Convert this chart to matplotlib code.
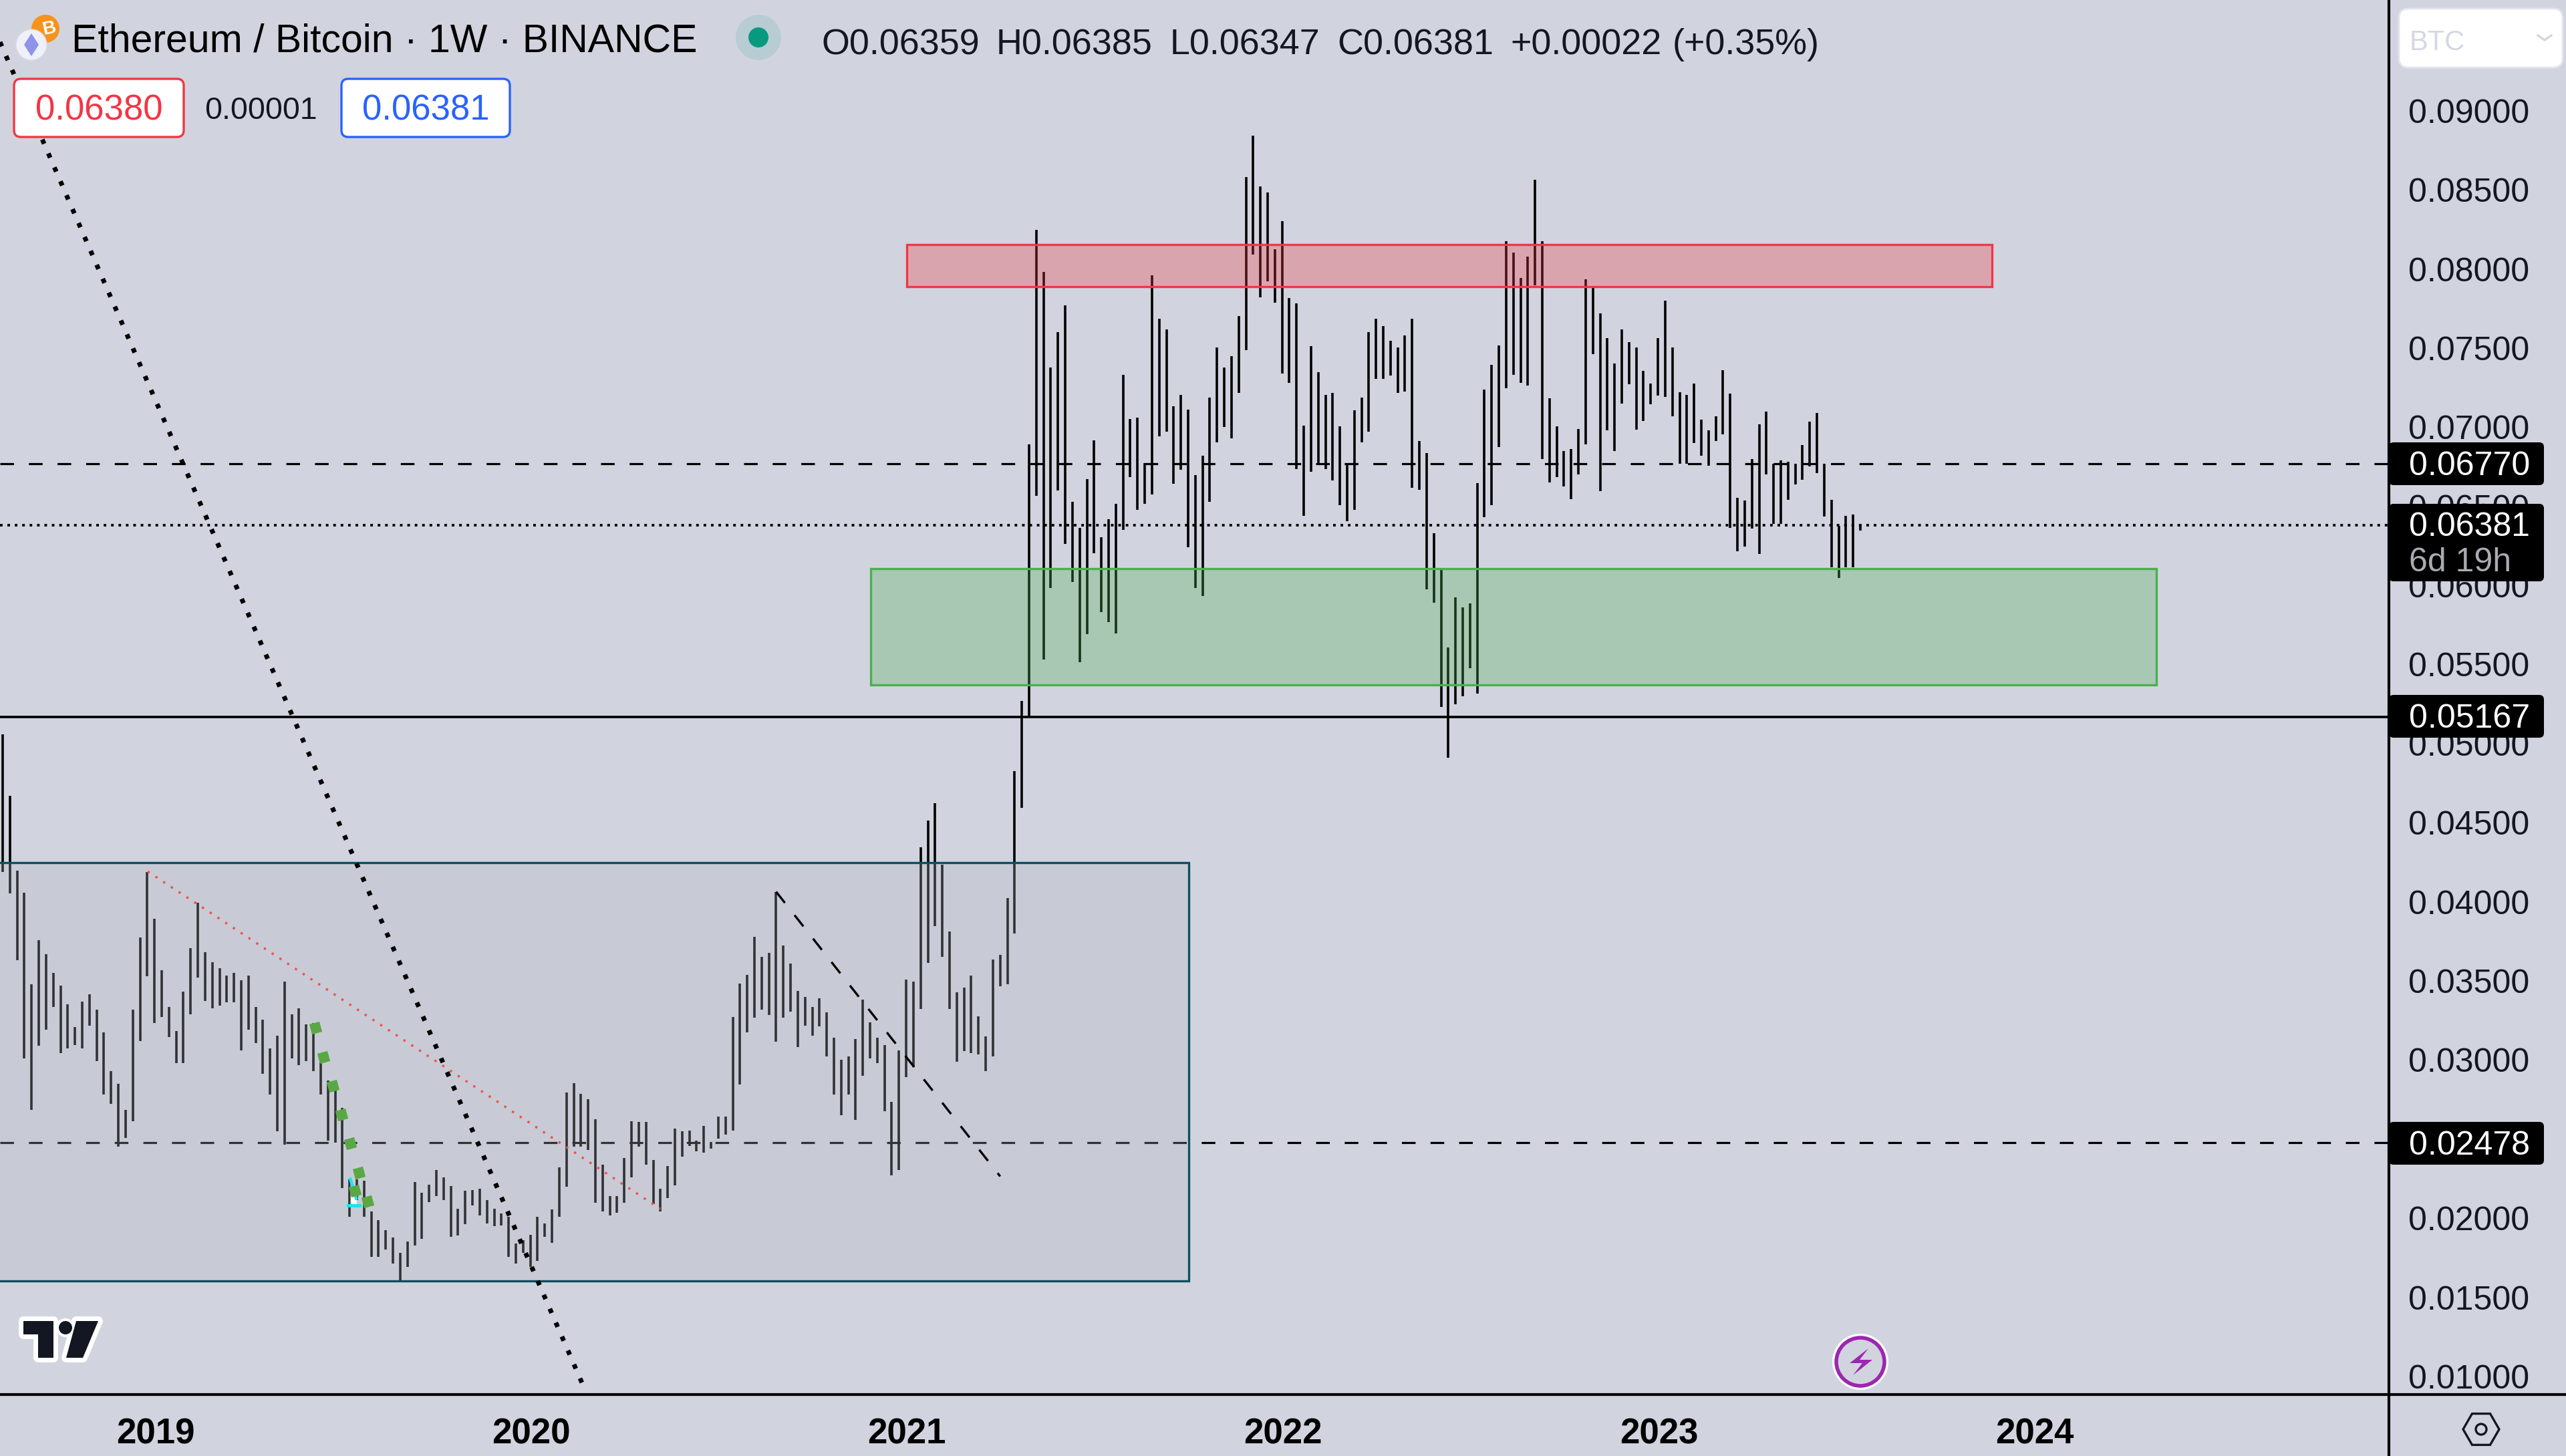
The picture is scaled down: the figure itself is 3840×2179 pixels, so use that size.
import numpy as np
import matplotlib
matplotlib.use("Agg")
import matplotlib.pyplot as plt
from matplotlib.patches import Rectangle, FancyBboxPatch, Circle, Polygon, RegularPolygon

plt.rcParams['font.family'] = ['Liberation Sans', 'DejaVu Sans']

# ---------------- DATA ---------------- #

# weekly bars, prices in 1e-5 BTC
highs = [5060,4672,4199,4059,3477,3756,3669,3550,3470,3351,
         3208,3368,3414,3319,3176,2929,2849,2684,3319,3773,
         4187,3892,3567,3334,3184,3431,3707,3993,3683,3620,
         3581,3535,3550,3504,3533,3334,3256,3072,3152,3494,
         3288,3327,3225,3235,3012,2871,2818,2697,2248,2248,
         2236,2042,1989,1926,1877,1783,1855,2229,2163,2212,
         2306,2258,2204,2061,2175,2180,2188,2115,2061,2030,
         2011,1841,1860,1897,2011,1969,2054,2321,2794,2854,
         2786,2752,2624,2340,2139,2139,2381,2612,
         2609,2609,2369,2188,2331,2568,2551,2554,2491,2585,
         2483,2641,2641,3271,3484,3538,3780,3652,3676,4064,
         3724,3610,3438,3400,3337,3392,3303,3143,3000,3024,
         3131,3380,3237,3143,3094,2735,3060,3509,3494,4345,
         4512,4624,4233,3812,3429,3460,3533,3276,3150,3635,
         3666,4023,4827,5271,
         6893,8246,7983,7379,7601,7768,6529,6363,6673,6918,
         6304,6419,6514,7330,7051,7062,6775,7960,7686,7617,
         7133,7205,7110,6696,6821,7187,7504,7379,7451,7704,
         8579,8842,8523,8484,8126,8300,7816,7783,7010,7512,
         7348,7205,7218,7005,6760,7108,7187,7602,7686,7640,
         7545,7504,7578,7686,6911,6836,6330,6100,5606,5926,
         5859,5887,6647,7236,7394,7515,
         8174,8103,7944,8080,8566,8174,7182,7005,6849,6864,
         6990,7936,7885,7721,7563,7402,7617,7537,7506,7356,
         7276,7563,7798,7506,7220,7205,7276,7046,6982,7069,
         7361,7212,6552,6537,6798,7020,7100,6767,6790,6782,
         6767,6887,7036,7092,6767,6542,6376,6440,6447,6385]
lows = [4187,4054,3630,3012,2684,3092,3193,3334,3043,3072,
        3096,3072,3218,2995,2781,2723,2454,2507,2612,3121,
        3528,3235,3271,3145,2980,2980,3290,3521,3375,3327,
        3344,3363,3363,3060,3193,3109,2915,2781,2551,2466,
        3012,2970,2995,2932,2781,2490,2478,2192,2011,2115,
        2011,1756,1756,1804,1715,1606,1691,1829,1872,2103,
        2139,2115,1884,1892,1964,2083,2018,1969,1950,1955,
        1756,1715,1780,1691,1732,1884,1843,2011,2200,2454,
        2454,2430,2098,2042,2018,2035,2098,2260,
        2454,2338,2088,2042,2127,2209,2391,2459,2423,2415,
        2440,2503,2527,2556,2847,3174,3266,3320,3283,3114,
        3266,3308,3082,3218,3155,3215,3021,2781,2653,2781,
        2621,2900,3012,2980,2677,2272,2306,2891,2956,3324,
        3615,3848,3654,3324,2988,3058,3046,3036,2932,3021,
        3465,3477,3800,4592,
        5171,6565,5532,5984,6599,6263,6023,5516,5690,6202,
        5831,5767,5698,6350,6683,6476,6517,6573,6944,6970,
        6642,6732,6240,5984,5931,6527,6906,7003,6931,7218,
        7489,8093,7821,7924,7788,7341,7282,6734,6440,6719,
        6775,6734,6662,6509,6407,6476,6906,6970,7307,7307,
        7328,7218,7225,6619,6606,5977,5890,5230,4911,5247,
        5301,5478,5317,6430,6509,6875,
        7248,7330,7279,7263,7898,6800,6649,6683,6626,6547,
        6701,6890,7463,6596,6979,6849,7151,7271,6985,7041,
        7143,7199,7192,7071,6767,6767,6898,6818,6757,6913,
        6954,6363,6214,6245,6358,6199,6701,6388,6388,6542,
        6637,6667,6754,6708,6434,6115,6048,6115,6115,6347]

y_ticks = [0.01 + 0.005 * i for i in range(17)]
year_labels = ["2019", "2020", "2021", "2022", "2023", "2024"]
year_bars = [21.2, 73.1, 125.1, 177.1, 229.2, 281.1]

level_dash_hi = 0.06770
level_last = 0.06381
level_solid = 0.05167
level_dash_lo = 0.02478

# drawings: (bar index, price)
red_zone = (125.1, 275.2, 0.07890, 0.08153)
green_zone = (120.1, 298.0, 0.05370, 0.06108)
teal_zone = (-5.0, 164.1, 0.01603, 0.04248)
big_dotted = ([-0.37, 80.56], [0.09434, 0.00916])
red_dotted = ([20.06, 91.0], [0.04192, 0.02059])
black_dashed = ([107.0, 138.0], [0.04064, 0.02265])
green_x = [43.3, 44.4, 45.7, 46.9, 48.1, 49.3, 48.7, 50.5]
green_y = [0.03203, 0.03019, 0.02837, 0.02655, 0.02474, 0.02289, 0.02173, 0.02105]

ohlc_parts = ["O0.06359", "H0.06385", "L0.06347", "C0.06381", "+0.00022", "(+0.35%)"]

BG = "#d1d4de"
FW, FH = 3840, 2179

# ---------------- CHART ---------------- #

fig = plt.figure(figsize=(38.4, 21.79), dpi=100, facecolor=BG)
ax = fig.add_axes([0, 1 - 2087 / FH, 3575 / FW, 2087 / FH], facecolor=BG)

hi = np.array(highs) / 1e5
lo = np.array(lows) / 1e5
ax.vlines(np.arange(len(hi)), lo, hi, color="black", lw=2.6, zorder=2)

dash = (0, (6.4, 7.0))
ax.axhline(level_dash_hi, color="black", lw=2.3, ls=dash, zorder=2)
ax.axhline(level_dash_lo, color="black", lw=2.3, ls=dash, zorder=2)
ax.axhline(level_last, color="black", lw=2.8, ls=(0, (1, 1.85)), zorder=2)
ax.axhline(level_solid, color="black", lw=2.6, zorder=2)

def zone(z, face, edge):
    ax.add_patch(Rectangle((z[0], z[2]), z[1] - z[0], z[3] - z[2], facecolor=face,
                           edgecolor=edge, lw=2.4, zorder=3))

zone(teal_zone, (178 / 255, 183 / 255, 193 / 255, 0.28), "#0e4f60")
zone(red_zone, (242 / 255, 54 / 255, 69 / 255, 0.3), "#f23645")
zone(green_zone, (76 / 255, 175 / 255, 80 / 255, 0.3), "#4caf50")

ax.plot(*big_dotted, color="black", lw=5, ls=(0, (1, 2.27)), zorder=5)
ax.plot(*red_dotted, color="#f2524c", lw=2.5, ls=(0, (1, 3)), zorder=4)
ax.plot(*black_dashed, color="black", lw=2.4, ls=dash, zorder=4)

# small cyan mark under the green dots
ax.fill([48.2, 48.9, 48.9, 48.2], [0.0223, 0.02127, 0.0209, 0.0209], color="white", zorder=4)
ax.plot([48.1, 48.9], [0.02248, 0.02127], color="#19e6f0", lw=3.2, zorder=4)
ax.plot([47.8, 49.4], [0.02081, 0.02081], color="#19e6f0", lw=3.6, zorder=4)
ax.plot(green_x, green_y, ls="none", marker=(4, 0, 60), ms=16, color="#5aa845", mew=0, zorder=5)

ax.set_xlim((0 - 4) / 10.817, (3575 - 4) / 10.817)
ax.set_ylim(0.00886, 0.09700)
for s in ax.spines.values():
    s.set_visible(False)
ax.yaxis.tick_right()
ax.set_yticks(y_ticks, [f"{t:.5f}" for t in y_ticks])
ax.tick_params(axis="y", length=0, pad=21, labelsize=36, labelcolor="#131722")
ax.set_xticks(year_bars, year_labels)
ax.tick_params(axis="x", length=0, pad=25, labelsize=38, labelcolor="black")
for lab in ax.get_xticklabels():
    lab.set_fontweight("bold")

# ---------------- OVERLAY (pixels) ---------------- #

ov = fig.add_axes([0, 0, 1, 1], facecolor="none")
ov.set_xlim(0, FW)
ov.set_ylim(FH, 0)
ov.axis("off")

ov.plot([0, FW], [2087, 2087], color="black", lw=3)
ov.plot([3575, 3575], [0, FH], color="black", lw=3)

def tag(y0, y1):
    ov.add_patch(FancyBboxPatch((3575, y0), 232, y1 - y0, boxstyle="round,pad=0,rounding_size=7",
                                fc="black", ec="none", zorder=3))

for y0, y1, label in [(662, 726, "0.06770"), (1040, 1104, "0.05167"), (1679, 1743, "0.02478")]:
    tag(y0, y1)
    ov.text(3605, (y0 + y1) / 2 + 4, label, color="white", fontsize=36, va="center", zorder=4)
tag(754, 870)
ov.text(3605, 789, "0.06381", color="white", fontsize=36, va="center", zorder=4)
ov.text(3605, 842, "6d 19h", color="#a9abb2", fontsize=36, va="center", zorder=4)

# top left legend
ov.add_patch(Circle((68, 43), 21, fc="#f7931a", ec="none"))
ov.text(73, 43, "B", color="white", fontsize=20, fontweight="bold", ha="center", va="center", rotation=12)
ov.add_patch(Circle((47, 67), 23, fc="#eef0fa", ec="#d9dbe5", lw=1))
ov.add_patch(Polygon([(47, 50), (58, 67), (47, 84), (36, 67)], fc="#8f92e8", ec="none"))
ov.text(107, 62, "Ethereum / Bitcoin · 1W · BINANCE", fontsize=42.4, color="black", va="center")
ov.add_patch(Circle((1135, 56), 34, fc="#b8cdd3", ec="none"))
ov.add_patch(Circle((1135, 56), 15, fc="#089981", ec="none"))
for part, xpos in zip(ohlc_parts, [1229, 1491, 1751, 2001, 2260, 2503]):
    ov.text(xpos, 67, part, fontsize=38.8, color="#131722", va="center")

for x0, x1, col, label in [(21, 275, "#f23645", "0.06380"), (511, 763, "#2962ff", "0.06381")]:
    ov.add_patch(FancyBboxPatch((x0, 118), x1 - x0, 87, boxstyle="round,pad=0,rounding_size=10",
                                fc="white", ec=col, lw=2.4))
    ov.text((x0 + x1) / 2, 166, label, color=col, fontsize=38, ha="center", va="center")
ov.text(390, 166, "0.00001", color="#131722", fontsize=33.5, ha="center", va="center")

# BTC currency box
ov.add_patch(FancyBboxPatch((3590, 13), 245, 88, boxstyle="round,pad=0,rounding_size=14",
                            fc="white", ec="#e3e5ee", lw=2))
ov.text(3606, 64, "BTC", color="#d5d8e2", fontsize=30, va="center")
ov.plot([3798, 3808, 3818], [53, 60, 53], color="#d5d8e2", lw=2.5)

# tradingview logo
logo_t = [(35, 1977), (80, 1977), (80, 2032), (57, 2032), (57, 1997), (35, 1997)]
logo_s = [(114, 1977), (147, 1977), (124, 2032), (99, 2032)]
for pts in (logo_t, logo_s):
    ov.add_patch(Polygon(pts, fc="white", ec="white", lw=10, joinstyle="round"))
ov.add_patch(Circle((98, 1987), 14, fc="white", ec="none"))
for pts in (logo_t, logo_s):
    ov.add_patch(Polygon(pts, fc="#131722", ec="none"))
ov.add_patch(Circle((98, 1987), 10, fc="#131722", ec="none"))

# lightning badge
ov.add_patch(Circle((2784, 2038), 42, fc="white", ec="none"))
ov.add_patch(Circle((2784, 2038), 36, fc=BG, ec="#9c27b0", lw=4))
ov.add_patch(Polygon([(2796, 2018), (2768, 2040), (2787, 2040), (2773, 2058), (2802, 2035), (2783, 2035)],
                     fc="#9c27b0", ec="none"))

# settings hexagon
ov.add_patch(RegularPolygon((3713, 2139), 6, radius=27, orientation=np.pi / 6, fc="none", ec="#131722", lw=2.4))
ov.add_patch(Circle((3713, 2139), 8, fc="none", ec="#131722", lw=2.4))

fig.savefig("out.png", dpi=100, facecolor=BG)
